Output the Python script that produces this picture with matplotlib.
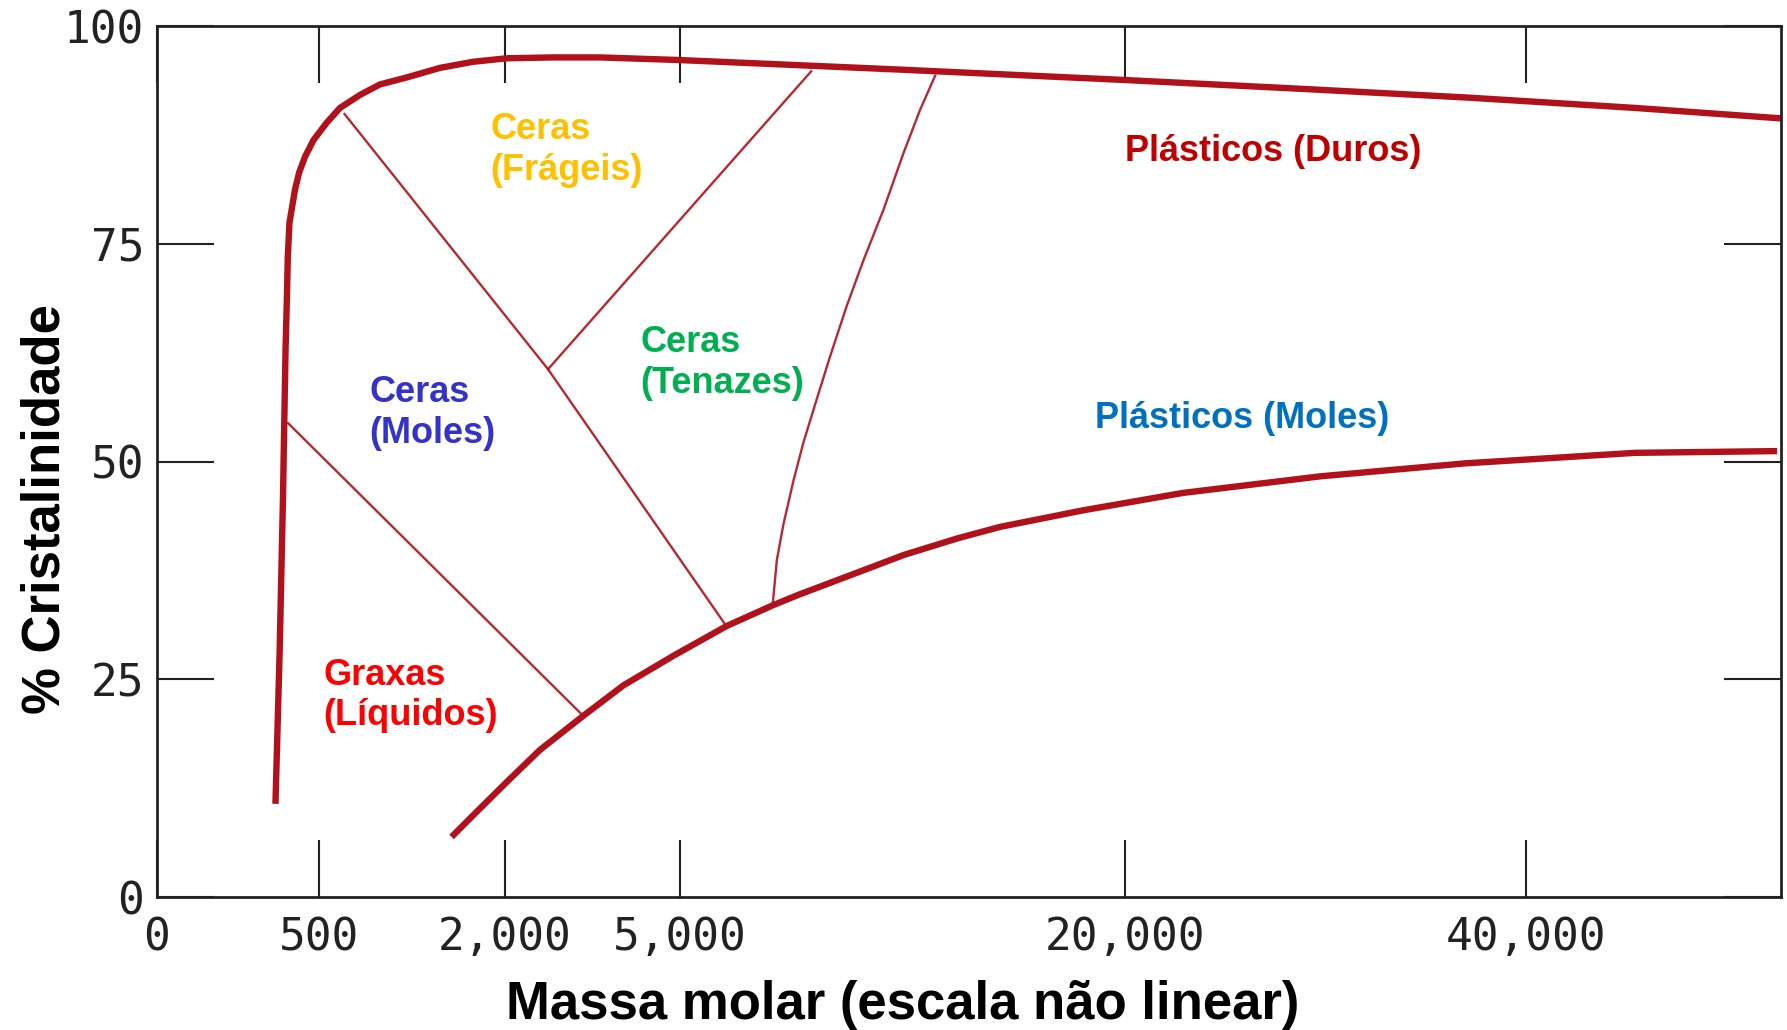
import numpy as np
import matplotlib.pyplot as plt

# eixo x nao linear: valores e posicao relativa ao longo do eixo
scale_vals = [0, 500, 2000, 5000, 20000, 40000, 52700]
scale_pos = [0, 0.100, 0.2145, 0.3223, 0.5959, 0.843, 1.0]

x_ticks = [0, 500, 2000, 5000, 20000, 40000]
x_labels = ['0', '500', '2,000', '5,000', '20,000', '40,000']
y_ticks = [0, 25, 50, 75, 100]

# curva superior
upper_m = [366, 379, 389, 397, 401, 404, 409, 426, 439, 457, 483, 562, 669, 831,
           992, 1207, 1476, 1742, 2034, 2823, 3628, 4983, 9050, 12425, 20075,
           28742, 37010, 45429, 52700]
upper_c = [10.7, 28.4, 45.6, 62.8, 68.5, 73.5, 77.4, 81.2, 83.2, 85.0, 86.9, 88.9, 90.6, 92.1,
           93.3, 94.1, 95.2, 95.9, 96.3, 96.4, 96.4, 96.1, 95.5, 95.0, 93.8,
           92.8, 91.8, 90.6, 89.4]

# curva inferior
lower_m = [1569, 1744, 2029, 2600, 3340, 4028, 4885, 6560, 8130, 8993, 10160, 12570,
           14379, 15800, 18601, 22914, 29738, 37010, 45429, 52502]
lower_c = [6.9, 9.4, 13.2, 16.9, 20.8, 24.3, 27.7, 31.1, 33.5, 34.7, 36.2, 39.3,
           41.2, 42.5, 44.4, 46.4, 48.3, 49.8, 51.0, 51.2]

# linhas de fronteira entre regioes
graxas_m = [405, 3340]
graxas_c = [54.4, 20.8]
moles_m = [706, 2737, 6560]
moles_c = [89.9, 60.6, 31.1]
frageis_m = [2737, 9421]
frageis_c = [60.6, 94.8]
tenazes_m = [8129, 8264, 8486, 8824, 9161, 9614, 10063, 10626, 11186, 11861, 12536,
             13100, 13606]
tenazes_c = [33.8, 38.7, 42.8, 47.8, 52.2, 57.2, 62.1, 67.9, 73.1, 78.9, 85.4,
             90.4, 94.3]

labels = ['Ceras\n(Frágeis)', 'Ceras\n(Tenazes)', 'Ceras\n(Moles)',
          'Graxas\n(Líquidos)', 'Plásticos (Duros)', 'Plásticos (Moles)']
label_m = [1879, 4324, 908, 538, 20025, 19006]
label_c = [82.3, 57.9, 52.1, 19.7, 84.5, 53.8]
label_colors = ['#FFC000', '#00B050', '#3333CC', '#FF0000', '#C00000', '#0070C0']


def forward(x):
    return np.interp(x, scale_vals, scale_pos)


def inverse(p):
    return np.interp(p, scale_pos, scale_vals)


line_col = '#B0111B'
ax_col = '#222222'

fig = plt.figure(figsize=(17.87, 10.30), dpi=100)
ax = fig.add_axes([0.0876, 0.1291, 0.9091, 0.8456])
ax.set_xscale('function', functions=(forward, inverse))

ax.plot(upper_m, upper_c, color=line_col, lw=4.6, solid_capstyle='butt', solid_joinstyle='round')
ax.plot(lower_m, lower_c, color=line_col, lw=4.6, solid_capstyle='butt', solid_joinstyle='round')
for xs, ys in [(graxas_m, graxas_c), (moles_m, moles_c),
               (frageis_m, frageis_c), (tenazes_m, tenazes_c)]:
    ax.plot(xs, ys, color=line_col, lw=1.7, alpha=0.9)

for txt, m, c, col in zip(labels, label_m, label_c, label_colors):
    ax.text(m, c, txt, color=col, fontsize=26, fontweight='bold',
            family='Liberation Sans', ha='left', va='baseline', linespacing=1.22)

ax.set_xlim(0, 52700)
ax.set_ylim(0, 100)
ax.set_xticks(x_ticks)
ax.set_xticklabels(x_labels)
ax.set_yticks(y_ticks)
ax.minorticks_off()

ax.tick_params(direction='in', length=41, width=1.5, color=ax_col,
               top=True, right=True, labelsize=32, labelcolor=ax_col)
ax.tick_params(axis='x', pad=14)
ax.tick_params(axis='y', pad=9)
for lab in ax.get_xticklabels() + ax.get_yticklabels():
    lab.set_family('DejaVu Sans Mono')
for sp in ax.spines.values():
    sp.set_linewidth(2.0)
    sp.set_color(ax_col)

ax.set_xlabel('Massa molar (escala não linear)', fontsize=38, fontweight='bold',
              family='Liberation Sans')
ax.xaxis.set_label_coords(0.459, -0.095)
ax.set_ylabel('% Cristalinidade', fontsize=38, fontweight='bold', family='Liberation Sans')
ax.yaxis.set_label_coords(-0.053, 0.445)

fig.savefig('out.png', dpi=100)
